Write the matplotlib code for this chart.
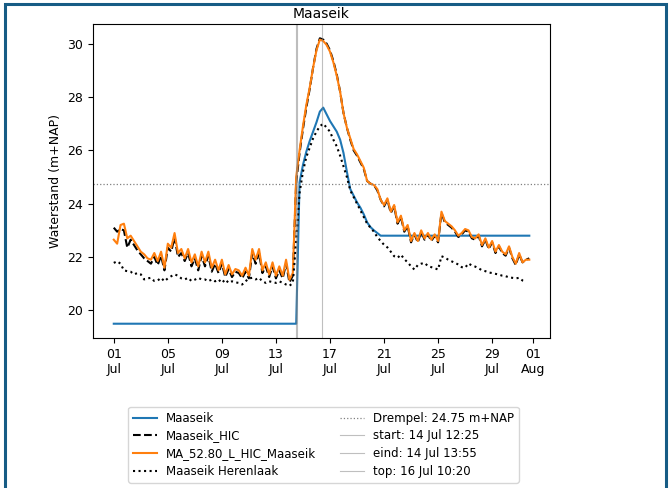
import numpy as np
import pandas as pd
import matplotlib
matplotlib.use('Agg')
import matplotlib.pyplot as plt
import matplotlib.dates as mdates
from matplotlib.patches import Rectangle

# --- waterstanden, 6-uurlijks vanaf 01 Jul 2021 00:00 (4 waarden per dag) ---
times = pd.date_range('2021-07-01', periods=124, freq='6h')

maaseik = (
    [19.5] * 4 * 13 +
    [19.5, 19.5, 19.5, 24.8,
     25.45, 25.95, 26.35, 26.7,
     27.05, 27.45, 27.6, 27.35,
     27.1, 26.9, 26.7, 26.4,
     25.9, 25.2, 24.55, 24.3,
     24.05, 23.85, 23.6, 23.3,
     23.12, 23.0, 22.9, 22.8] +
    [22.8] * 4 * 11
)

maaseik_hic = [
    23.1, 22.95, 23.05, 23.0,
    22.35, 22.65, 22.45, 22.25,
    22.1, 21.95, 21.85, 21.75,
    22.0, 21.7, 22.05, 21.5,
    22.35, 22.2, 22.75, 22.0,
    22.15, 21.85, 22.15, 21.65,
    21.95, 21.5, 22.05, 21.65,
    22.05, 21.45, 21.75, 21.4,
    21.75, 21.25, 21.55, 21.25,
    21.45, 21.4, 21.2, 21.45,
    21.2, 22.15, 21.75, 22.15,
    21.4, 21.65, 21.25, 21.65,
    21.2, 21.5, 21.2, 21.75,
    21.05, 21.3, 24.8, 25.9,
    26.8, 27.6, 28.3, 29.1,
    29.8, 30.2, 30.15, 30.0,
    29.75, 29.35, 28.85, 28.2,
    27.4, 26.85, 26.4, 26.0,
    25.8, 25.55, 25.3, 24.85,
    24.75, 24.7, 24.5, 24.15,
    23.9, 24.15, 23.65, 23.9,
    23.25, 23.5, 22.95, 23.15,
    22.55, 22.85, 22.55, 22.95,
    22.65, 22.85, 22.6, 22.8,
    22.55, 23.65, 23.3, 23.2,
    23.1, 22.95, 22.75, 22.85,
    23.0, 22.95, 22.7, 22.65,
    22.8, 22.4, 22.65, 22.3,
    22.55, 22.15, 22.4, 22.15,
    22.05, 22.35, 21.95, 21.7,
    22.1, 21.8, 21.9, 21.95,
]

ma_52_80 = [
    22.65, 22.5, 23.2, 23.25,
    22.7, 22.8, 22.6, 22.4,
    22.2, 22.1, 21.95, 21.9,
    22.15, 21.85, 22.2, 21.6,
    22.5, 22.35, 22.9, 22.15,
    22.3, 21.95, 22.3, 21.8,
    22.1, 21.65, 22.2, 21.8,
    22.2, 21.6, 21.9, 21.5,
    21.9, 21.35, 21.7, 21.35,
    21.55, 21.5, 21.3, 21.6,
    21.3, 22.3, 21.9, 22.3,
    21.5, 21.8, 21.35, 21.8,
    21.3, 21.65, 21.3, 21.9,
    21.15, 21.4, 25.0, 26.0,
    26.9, 27.7, 28.35, 29.1,
    29.75, 30.15, 30.1, 29.95,
    29.7, 29.3, 28.8, 28.2,
    27.4, 26.85, 26.45, 26.05,
    25.85, 25.6, 25.35, 24.85,
    24.75, 24.7, 24.55, 24.15,
    23.95, 24.2, 23.7, 23.95,
    23.3, 23.55, 23.0, 23.2,
    22.6, 22.9, 22.6, 23.0,
    22.7, 22.9, 22.65, 22.85,
    22.6, 23.7, 23.35, 23.25,
    23.15, 23.0, 22.8, 22.9,
    23.05, 23.0, 22.75, 22.7,
    22.85, 22.45, 22.7, 22.35,
    22.6, 22.2, 22.45, 22.2,
    22.1, 22.4, 22.0, 21.75,
    22.15, 21.8, 21.9, 21.9,
]

herenlaak = [
    21.78, 21.84, 21.75, 21.5,
    21.47, 21.45, 21.35, 21.4,
    21.35, 21.16, 21.2, 21.22,
    21.1, 21.12, 21.22, 21.09,
    21.2, 21.28, 21.35, 21.3,
    21.2, 21.16, 21.22, 21.1,
    21.15, 21.22, 21.16, 21.16,
    21.09, 21.16, 21.09, 21.16,
    21.03, 21.16, 21.03, 21.09,
    21.05, 21.03, 20.97, 21.09,
    21.2, 21.22, 21.16, 21.22,
    21.09, 21.03, 21.09, 21.06,
    21.03, 21.09, 21.03, 20.97,
    20.92, 21.03, 22.6, 24.4,
    25.2, 25.75, 26.1, 26.45,
    26.7, 26.9, 27.0, 26.85,
    26.7, 26.4, 26.15, 25.8,
    25.4, 25.0, 24.5, 24.25,
    24.0, 23.75, 23.5, 23.25,
    23.1, 22.95, 22.75, 22.6,
    22.46, 22.36, 22.2, 22.03,
    21.97, 22.09, 21.92, 21.8,
    21.65, 21.53, 21.7, 21.75,
    21.78, 21.66, 21.62, 21.58,
    21.53, 22.03, 21.98, 21.9,
    21.84, 21.78, 21.72, 21.62,
    21.6, 21.76, 21.68, 21.64,
    21.58, 21.5, 21.47, 21.42,
    21.4, 21.37, 21.34, 21.3,
    21.28, 21.24, 21.22, 21.2,
    21.22, 21.12, 21.09, np.nan,
]

drempel = 24.75
t_start = pd.Timestamp('2021-07-14 12:25')
t_eind = pd.Timestamp('2021-07-14 13:55')
t_top = pd.Timestamp('2021-07-16 10:20')

plt.rcParams['font.size'] = 9

fig = plt.figure(figsize=(6.7, 4.88), dpi=100)
ax = fig.add_axes([0.1388, 0.3074, 0.6822, 0.6434])

ax.plot(times, maaseik, color='#1f77b4', label='Maaseik')
ax.plot(times, maaseik_hic, 'k--', label='Maaseik_HIC')
ax.plot(times, ma_52_80, color='#ff7f0e', label='MA_52.80_L_HIC_Maaseik')
ax.plot(times, herenlaak, 'k:', label='Maaseik Herenlaak')

ax.axhline(drempel, color='grey', ls=':', lw=0.9, label=f'Drempel: {drempel} m+NAP')
ax.axvline(t_start, color='grey', lw=0.8, alpha=0.5, label=f"start: {t_start:%d %b %H:%M}")
ax.axvline(t_eind, color='grey', lw=0.8, alpha=0.5, label=f"eind: {t_eind:%d %b %H:%M}")
ax.axvline(t_top, color='grey', lw=0.8, alpha=0.5, label=f"top: {t_top:%d %b %H:%M}")

ax.set_title('Maaseik', fontsize=10, pad=4)
ax.set_ylabel('Waterstand (m+NAP)')
ax.xaxis.set_major_locator(mdates.DayLocator(bymonthday=[1, 5, 9, 13, 17, 21, 25, 29]))
ax.xaxis.set_major_formatter(mdates.DateFormatter('%d\n%b'))
ax.set_yticks([20, 22, 24, 26, 28, 30])

fig.legend(loc='upper center', bbox_to_anchor=(0.483, 0.178), ncol=2, fontsize=8.5,
           labelspacing=0.4)

# blauwe kader rond de schermafdruk
fig.patches.append(Rectangle((0.008, -0.05), 0.986, 1.042, transform=fig.transFigure,
                             fill=False, edgecolor='#175c85', lw=2.2))

fig.savefig('out.png', dpi=100)
